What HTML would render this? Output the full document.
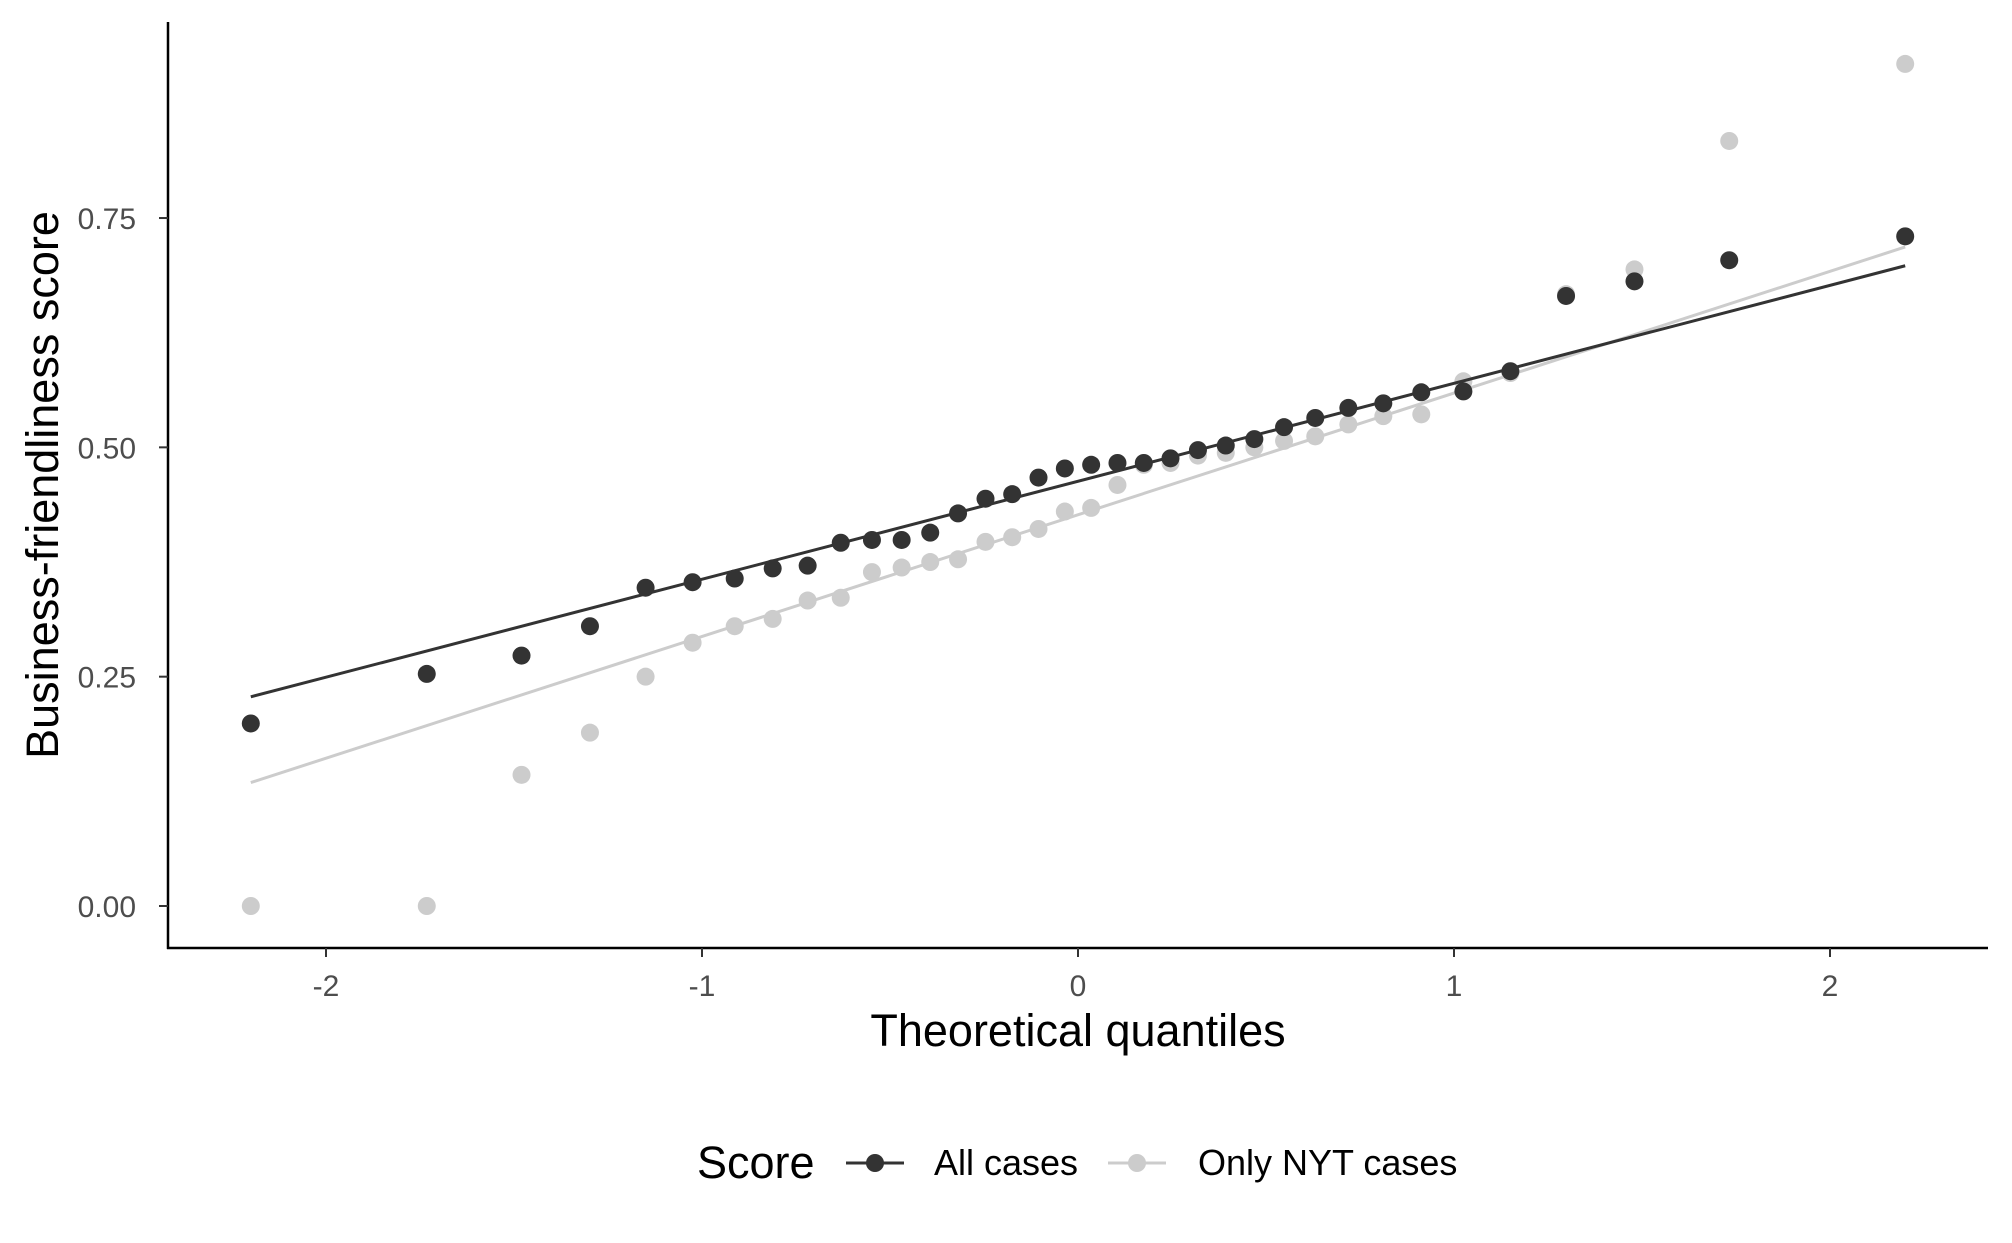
<!DOCTYPE html>
<html><head><meta charset="utf-8"><style>
html,body{margin:0;padding:0;background:#fff;}
svg{display:block;font-family:"Liberation Sans",sans-serif;}
</style></head><body>
<svg id="chart" width="2012" height="1243" viewBox="0 0 2012 1243" xmlns="http://www.w3.org/2000/svg"></svg>
<script>
const xQuantiles=[-2.200,-1.732,-1.480,-1.298,-1.150,-1.025,-0.913,-0.812,-0.719,-0.631,-0.548,-0.469,-0.393,-0.319,-0.246,-0.175,-0.105,-0.035,0.035,0.105,0.175,0.246,0.319,0.393,0.469,0.548,0.631,0.719,0.812,0.913,1.025,1.150,1.298,1.480,1.732,2.200];
const allCases=[0.199,0.253,0.273,0.305,0.347,0.353,0.357,0.368,0.371,0.396,0.399,0.399,0.407,0.428,0.444,0.449,0.467,0.477,0.481,0.483,0.483,0.488,0.497,0.502,0.509,0.522,0.532,0.543,0.548,0.560,0.561,0.583,0.665,0.681,0.704,0.730];
const nytCases=[0,0,0.143,0.189,0.250,0.287,0.305,0.313,0.333,0.336,0.364,0.369,0.375,0.378,0.397,0.402,0.411,0.430,0.434,0.459,0.481,0.483,0.491,0.494,0.500,0.507,0.512,0.525,0.534,0.536,0.572,0.581,0.667,0.694,0.834,0.918];
const allLine=[0.463,0.1068];
const nytLine=[0.4265,0.1327];
const xTicks=[-2,-1,0,1,2];
const yTicks=[0,0.25,0.5,0.75];
const yTickLabels=["0.00","0.25","0.50","0.75"];

const svg=document.getElementById('chart');
const NS='http://www.w3.org/2000/svg';
const X=v=>1078+v*376;
const Y=v=>906-v*917.3;
function mk(tag,attrs,parent){const e=document.createElementNS(NS,tag);for(const k in attrs)e.setAttribute(k,attrs[k]);(parent||svg).appendChild(e);return e;}

let ax=mk('line',{x1:168,y1:22,x2:168,y2:949,stroke:'#000','stroke-width':2.5});


ax=mk('line',{x1:167,y1:948,x2:1988,y2:948,stroke:'#000','stroke-width':2.5});



xTicks.forEach(t=>{
  const l=mk('line',{x1:X(t),y1:948,x2:X(t),y2:957,stroke:'#333','stroke-width':2});
  
  
  const tx=mk('text',{x:X(t),y:996,'text-anchor':'middle','font-size':30,fill:'#4d4d4d'});
  tx.textContent=String(t);
  
  
});
yTicks.forEach((t,i)=>{
  const l=mk('line',{x1:159,y1:Y(t),x2:168,y2:Y(t),stroke:'#333','stroke-width':2});
  
  
  const tx=mk('text',{x:136,y:Y(t)+11,'text-anchor':'end','font-size':30,fill:'#4d4d4d'});
  tx.textContent=yTickLabels[i];
  
  
});

let t=mk('text',{x:1078,y:1046,'text-anchor':'middle','font-size':45,fill:'#000'});
t.textContent='Theoretical quantiles';


t=mk('text',{x:0,y:0,'text-anchor':'middle','font-size':45,fill:'#000',transform:'translate(58,485) rotate(-90)'});
t.textContent='Business-friendliness score';



function series(vals,line,color,name){
  const g=mk('g',{});
  
  
  const x0=xQuantiles[0],x1=xQuantiles[xQuantiles.length-1];
  const l=mk('line',{x1:X(x0),y1:Y(line[0]+line[1]*x0),x2:X(x1),y2:Y(line[0]+line[1]*x1),stroke:color,'stroke-width':3},g);
  
  
  vals.forEach((v,i)=>{
    const c=mk('circle',{cx:X(xQuantiles[i]),cy:Y(v),r:9,fill:color},g);
    
    
  });
}
series(nytCases,nytLine,'#cccccc','only-nyt');
series(allCases,allLine,'#333333','all-cases');

const lg=mk('g',{});


t=mk('text',{x:697,y:1178,'font-size':45,fill:'#000'},lg);
t.textContent='Score';


[[875,'#333333','All cases',934,'legend-all-cases'],[1137,'#cccccc','Only NYT cases',1198,'legend-only-nyt']].forEach(d=>{
  const e=mk('g',{},lg);
  
  
  mk('line',{x1:d[0]-29,y1:1163,x2:d[0]+29,y2:1163,stroke:d[1],'stroke-width':3},e);
  mk('circle',{cx:d[0],cy:1163,r:9,fill:d[1]},e);
  const tx=mk('text',{x:d[3],y:1175,'font-size':36,fill:'#000'},e);
  tx.textContent=d[2];
});
</script>
</body></html>
